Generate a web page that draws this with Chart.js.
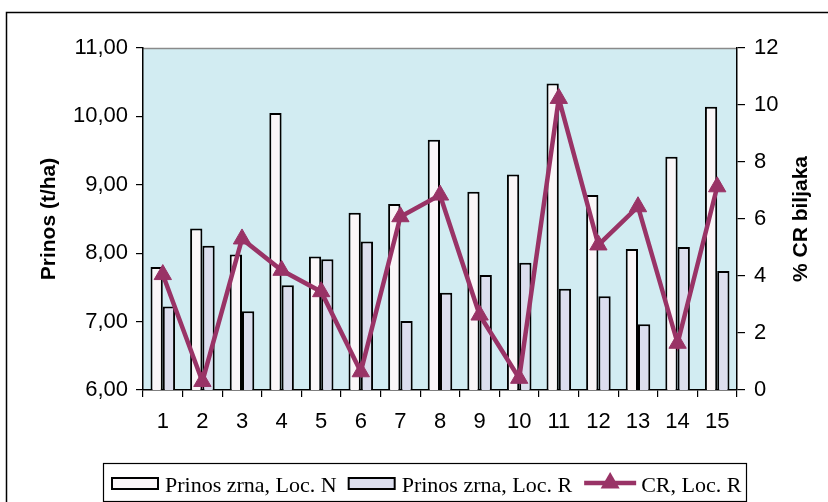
<!DOCTYPE html>
<html>
  <head>
    <meta charset="utf-8">
    <title>Prinos i CR</title>
    <script type="text/javascript" src="https://cdn.jsdelivr.net/npm/chart.js@4/dist/chart.umd.min.js"></script>
    <style>
      html, body { margin: 0; padding: 0; background: #fff; }
      #chart { display: block; }
    </style>
  </head>
  <body>
    <canvas id="chart" width="828" height="502"></canvas>
    <script>
      // podaci
      var categories = ['1','2','3','4','5','6','7','8','9','10','11','12','13','14','15'];
      var prinosLocN = [7.80, 8.36, 7.98, 10.05, 7.95, 8.59, 8.72, 9.66, 8.90, 9.15, 10.48, 8.85, 8.06, 9.41, 10.14];
      var prinosLocR = [7.22, 8.11, 7.15, 7.53, 7.91, 8.17, 7.01, 7.42, 7.68, 7.86, 7.48, 7.37, 6.96, 8.09, 7.74];
      var crLocR     = [4.05, 0.30, 5.30, 4.20, 3.45, 0.64, 6.08, 6.84, 2.63, 0.41, 10.23, 5.09, 6.43, 1.64, 7.13];
      var labelN  = 'Prinos zrna, Loc. N';
      var labelR  = 'Prinos zrna, Loc. R';
      var labelCR = 'CR, Loc. R';

      var colN    = '#faf6f8';
      var colR    = '#dcdeee';
      var colLine = '#993366';
      var colBg   = '#d2ecf2';
      var sans    = '"Liberation Sans", Arial, sans-serif';
      var serif   = '"Liberation Serif", "Times New Roman", serif';

      function tri(ctx, x, y, r){
        ctx.beginPath();
        ctx.moveTo(x, y - r);
        ctx.lineTo(x + r * 0.866, y + r / 2);
        ctx.lineTo(x - r * 0.866, y + r / 2);
        ctx.closePath();
        ctx.fill();
      }

      var framePlugin = {
        id: 'frame',
        beforeDraw: function(chart){
          var ctx = chart.ctx, a = chart.chartArea;
          ctx.save();
          ctx.fillStyle = '#fff';
          ctx.fillRect(0, 0, chart.width, chart.height);
          // okvir slike
          ctx.strokeStyle = '#000';
          ctx.lineWidth = 1.5;
          ctx.beginPath();
          ctx.moveTo(6.5, chart.height + 2);
          ctx.lineTo(6.5, 12.5);
          ctx.lineTo(chart.width + 2, 12.5);
          ctx.stroke();
          // pozadina grafa
          ctx.fillStyle = colBg;
          ctx.fillRect(a.left, a.top, a.right - a.left, a.bottom - a.top);
          ctx.strokeStyle = '#8a8a8a';
          ctx.lineWidth = 1.5;
          ctx.beginPath();
          ctx.moveTo(a.left, a.top + 0.5);
          ctx.lineTo(a.right, a.top + 0.5);
          ctx.stroke();
          ctx.restore();
        },
        afterDraw: function(chart){
          var ctx = chart.ctx, a = chart.chartArea;
          ctx.save();
          // naslov desne osi (odozdo prema gore)
          ctx.fillStyle = '#000';
          ctx.font = 'bold 21px ' + sans;
          ctx.textAlign = 'center';
          ctx.textBaseline = 'middle';
          ctx.translate(801, (a.top + a.bottom) / 2);
          ctx.rotate(-Math.PI / 2);
          ctx.fillText('% CR biljaka', 0, 0);
          ctx.restore();

          // legenda
          ctx.save();
          ctx.strokeStyle = '#000';
          ctx.lineWidth = 1.2;
          ctx.strokeRect(103.5, 463.5, 643, 38);
          ctx.font = '22px ' + serif;
          ctx.textBaseline = 'middle';
          ctx.textAlign = 'left';
          var cy = 485, x = 112;
          var items = [
            {type: 'bar', fill: colN, text: labelN},
            {type: 'bar', fill: colR, text: labelR},
            {type: 'line', text: labelCR}
          ];
          items.forEach(function(it){
            if(it.type == 'bar'){
              ctx.fillStyle = it.fill;
              ctx.fillRect(x, cy - 7, 46, 11);
              ctx.lineWidth = 2;
              ctx.strokeStyle = '#000';
              ctx.strokeRect(x, cy - 7, 46, 11);
              x += 46 + 7;
            } else {
              ctx.strokeStyle = colLine;
              ctx.lineWidth = 4.5;
              ctx.beginPath();
              ctx.moveTo(x, cy - 2);
              ctx.lineTo(x + 52, cy - 2);
              ctx.stroke();
              ctx.fillStyle = colLine;
              tri(ctx, x + 26, cy - 2, 11);
              x += 52 + 5;
            }
            ctx.fillStyle = '#000';
            ctx.fillText(it.text, x, cy + 1);
            x += ctx.measureText(it.text).width + 12;
          });
          ctx.restore();
        }
      };

      var ctx = document.getElementById('chart').getContext('2d');
      new Chart(ctx, {
        type: 'bar',
        data: {
          labels: categories,
          datasets: [
            {
              type: 'line',
              label: labelCR,
              data: crLocR,
              yAxisID: 'y1',
              order: 0,
              borderColor: colLine,
              backgroundColor: colLine,
              borderWidth: 4.5,
              pointStyle: 'triangle',
              pointRadius: 10,
              pointBackgroundColor: colLine,
              pointBorderColor: colLine,
              pointBorderWidth: 1,
              tension: 0,
              clip: false
            },
            {
              label: labelN,
              data: prinosLocN,
              yAxisID: 'y',
              order: 1,
              backgroundColor: colN,
              borderColor: '#000',
              borderWidth: 2,
              categoryPercentage: 0.62,
              barPercentage: 1.0
            },
            {
              label: labelR,
              data: prinosLocR,
              yAxisID: 'y',
              order: 1,
              backgroundColor: colR,
              borderColor: '#000',
              borderWidth: 2,
              categoryPercentage: 0.62,
              barPercentage: 1.0
            }
          ]
        },
        options: {
          responsive: false,
          animation: false,
          devicePixelRatio: 1,
          layout: {padding: {top: 48, left: 0, right: 0, bottom: 52}},
          plugins: {
            legend: {display: false},
            tooltip: {enabled: false}
          },
          scales: {
            x: {
              grid: {display: true, drawOnChartArea: false, offset: true, tickLength: 7, color: '#000', lineWidth: 1.2},
              border: {display: true, color: '#000', width: 1.5},
              ticks: {color: '#000', font: {family: sans, size: 22}, padding: 12, maxRotation: 0, autoSkip: false},
              afterFit: function(s){ s.height = 60; }
            },
            y: {
              position: 'left',
              min: 6,
              max: 11,
              ticks: {
                stepSize: 1,
                color: '#000',
                font: {family: sans, size: 22},
                padding: 8,
                callback: function(v){ return v.toFixed(2).replace('.', ','); }
              },
              grid: {display: true, drawOnChartArea: false, tickLength: 7, color: '#000', lineWidth: 1.2},
              border: {display: true, color: '#000', width: 1.5},
              title: {display: true, text: 'Prinos (t/ha)', color: '#000', font: {family: sans, size: 21, weight: 'bold'}, padding: {top: 37, bottom: 0}},
              afterFit: function(s){ s.width = 143; }
            },
            y1: {
              position: 'right',
              min: 0,
              max: 12,
              ticks: {stepSize: 2, color: '#000', font: {family: sans, size: 22}, padding: 9},
              grid: {display: true, drawOnChartArea: false, tickLength: 8, color: '#000', lineWidth: 1.2},
              border: {display: true, color: '#000', width: 1.5},
              afterFit: function(s){ s.width = 91; }
            }
          }
        },
        plugins: [framePlugin]
      });
    </script>
  </body>
</html>
